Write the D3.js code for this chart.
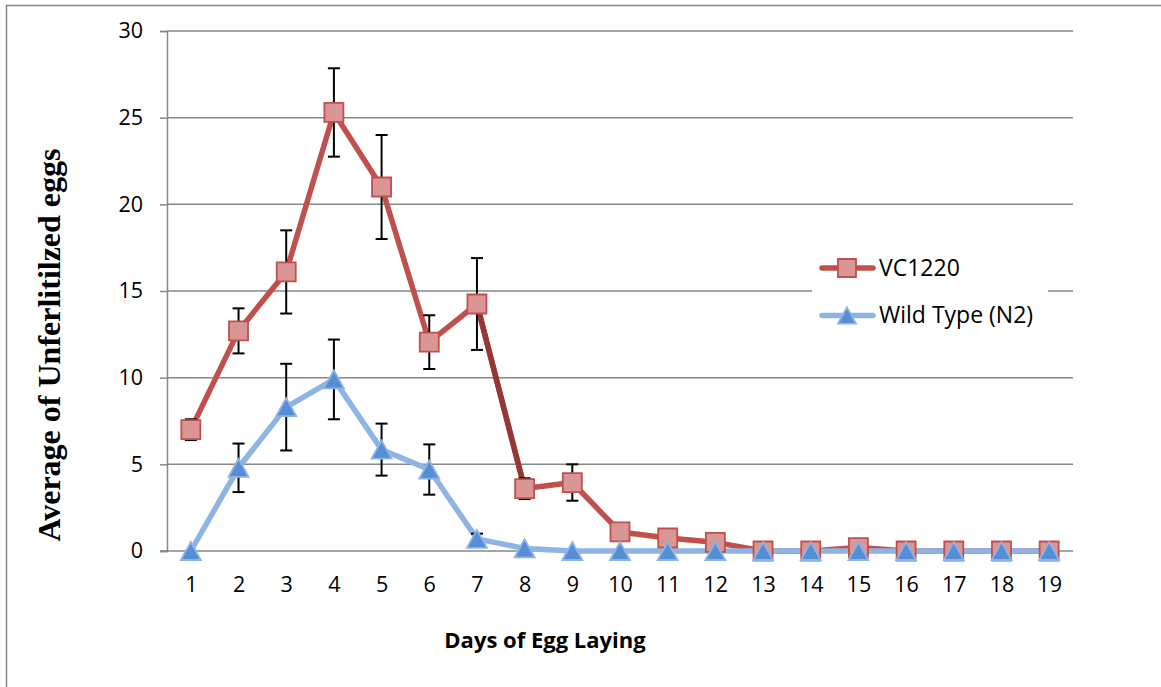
<!DOCTYPE html>
<html>
<head>
<meta charset="utf-8">
<script src="https://cdn.jsdelivr.net/npm/d3@7"></script>
<style>
  html, body { margin: 0; padding: 0; background: #fff; }
  svg { display: block; }
</style>
</head>
<body>
<svg id="chart" width="1161" height="687"></svg>
<script>
// Days of egg laying (category axis)
const days = [1, 2, 3, 4, 5, 6, 7, 8, 9, 10, 11, 12, 13, 14, 15, 16, 17, 18, 19];

// Mean unfertilized eggs per day, with standard error
const vc1220Values = [7.0, 12.7, 16.1, 25.3, 21.0, 12.05, 14.25, 3.6, 3.95, 1.1, 0.75, 0.5, 0, 0, 0.2, 0, 0, 0, 0];
const vc1220Errors = [0.6, 1.3, 2.4, 2.55, 3.0, 1.55, 2.65, 0.6, 1.05, 0, 0, 0, 0, 0, 0, 0, 0, 0, 0];
const wildTypeValues = [0, 4.8, 8.3, 9.9, 5.85, 4.7, 0.7, 0.15, 0, 0, 0, 0, 0, 0, 0, 0, 0, 0, 0];
const wildTypeErrors = [0, 1.4, 2.5, 2.3, 1.5, 1.45, 0.3, 0, 0, 0, 0, 0, 0, 0, 0, 0, 0, 0, 0];

const seriesNames = ["VC1220", "Wild Type (N2)"];
const yTicks = [0, 5, 10, 15, 20, 25, 30];

const svg = d3.select("#chart");
const plot = { left: 167, right: 1073, top: 31, bottom: 551 };

const x = d3.scalePoint().domain(days).range([plot.left, plot.right]).padding(0.5);
const y = d3.scaleLinear().domain([0, 30]).range([plot.bottom, plot.top]);

const gridColor = "#878787";
const red = "#C0504D", redDark = "#953735", redFill = "#D99694";
const blue = "#8DB4E2", blueFill = "#558ED5";
const tickFont = 21.5;

// outer chart frame
svg.append("rect")
  .attr("x", 6.5).attr("y", 5.5).attr("width", 1200).attr("height", 720)
  .attr("fill", "#fff").attr("stroke", gridColor).attr("stroke-width", 1.5);

// horizontal gridlines
svg.append("g").selectAll("line").data(yTicks.filter(t => t > 0)).join("line")
  .attr("x1", plot.left).attr("x2", plot.right)
  .attr("y1", d => y(d)).attr("y2", d => y(d))
  .attr("stroke", gridColor).attr("stroke-width", 1.5);

// y axis
const yAxis = svg.append("g")
  .attr("transform", `translate(${plot.left},0)`)
  .call(d3.axisLeft(y).tickValues(yTicks).tickSize(7).tickPadding(17));
yAxis.select(".domain").attr("stroke", gridColor).attr("stroke-width", 1.5);
yAxis.selectAll(".tick line").attr("stroke", gridColor).attr("stroke-width", 1.5);
yAxis.selectAll(".tick text")
  .attr("font-family", "'Open Sans', sans-serif").attr("font-size", tickFont).attr("fill", "#000");

// x axis
const xAxis = svg.append("g")
  .attr("transform", `translate(0,${plot.bottom})`)
  .call(d3.axisBottom(x).tickSize(0).tickPadding(26));
xAxis.select(".domain").attr("d", `M${plot.left - 7},0H${plot.right}`)
  .attr("stroke", gridColor).attr("stroke-width", 1.5);
xAxis.selectAll(".tick text")
  .attr("font-family", "'Open Sans', sans-serif").attr("font-size", tickFont).attr("fill", "#000");

// axis titles
svg.append("text")
  .attr("x", 545).attr("y", 648).attr("text-anchor", "middle")
  .attr("font-family", "'Open Sans', sans-serif").attr("font-weight", "bold").attr("font-size", 22)
  .text("Days of Egg Laying");

svg.append("text")
  .attr("transform", "translate(60,345) rotate(-90)").attr("text-anchor", "middle")
  .attr("font-family", "'Liberation Serif', 'Times New Roman', serif").attr("font-weight", "bold").attr("font-size", 32)
  .text("Average of Unferlitilzed eggs");

const line = d3.line().x((d, i) => x(days[i])).y(d => y(d));

const series = [
  { name: seriesNames[0], values: vc1220Values, errors: vc1220Errors, stroke: red, fill: redFill, marker: "square" },
  { name: seriesNames[1], values: wildTypeValues, errors: wildTypeErrors, stroke: blue, fill: blueFill, marker: "triangle" }
];

function markerPath(type, s) {
  if (type === "square") return `M${-s / 2},${-s / 2}h${s}v${s}h${-s}Z`;
  const h = s * 0.9;
  return `M0,${-h / 2}L${s / 2},${h / 2}L${-s / 2},${h / 2}Z`;
}

series.forEach(s => {
  const g = svg.append("g");
  g.append("path").datum(s.values).attr("d", line)
    .attr("fill", "none").attr("stroke", s.stroke).attr("stroke-width", 5.5)
    .attr("stroke-linejoin", "round").attr("stroke-linecap", "round");

  // day 7 to day 8 segment of VC1220 is drawn in a darker red
  if (s.marker === "square") {
    const i = days.indexOf(7);
    g.append("line")
      .attr("x1", x(days[i])).attr("y1", y(s.values[i]))
      .attr("x2", x(days[i + 1])).attr("y2", y(s.values[i + 1]))
      .attr("stroke", redDark).attr("stroke-width", 5.5).attr("stroke-linecap", "round");
  }

  // error bars
  const eb = g.append("g").selectAll("g")
    .data(s.values.map((v, i) => ({ day: days[i], v, e: s.errors[i] })).filter(d => d.e > 0))
    .join("g").attr("stroke", "#000").attr("stroke-width", 2);
  eb.append("line")
    .attr("x1", d => x(d.day)).attr("x2", d => x(d.day))
    .attr("y1", d => y(d.v + d.e)).attr("y2", d => y(d.v - d.e));
  eb.append("line")
    .attr("x1", d => x(d.day) - 6).attr("x2", d => x(d.day) + 6)
    .attr("y1", d => y(d.v + d.e)).attr("y2", d => y(d.v + d.e));
  eb.append("line")
    .attr("x1", d => x(d.day) - 6).attr("x2", d => x(d.day) + 6)
    .attr("y1", d => y(d.v - d.e)).attr("y2", d => y(d.v - d.e));
});

// markers are drawn on top of all lines and error bars
series.forEach(s => {
  svg.append("g").selectAll("path").data(s.values).join("path")
    .attr("transform", (d, i) => `translate(${x(days[i])},${y(d)})`)
    .attr("d", markerPath(s.marker, s.marker === "square" ? 19 : 20))
    .attr("fill", s.fill).attr("stroke", s.stroke).attr("stroke-width", 1.8);
});

// legend
const legend = svg.append("g");
legend.append("rect").attr("x", 812).attr("y", 245).attr("width", 236).attr("height", 92).attr("fill", "#fff");
series.forEach((s, k) => {
  const ly = 268 + k * 47.5;
  legend.append("line").attr("x1", 822).attr("x2", 873).attr("y1", ly).attr("y2", ly)
    .attr("stroke", s.stroke).attr("stroke-width", 5.5).attr("stroke-linecap", "round");
  legend.append("path").attr("transform", `translate(847,${ly})`)
    .attr("d", markerPath(s.marker, 18))
    .attr("fill", s.fill).attr("stroke", s.stroke).attr("stroke-width", 1.8);
  legend.append("text").attr("x", 879).attr("y", ly + 7.5)
    .attr("font-family", "'Open Sans', sans-serif").attr("font-size", 23).attr("fill", "#000")
    .text(s.name);
});
</script>
</body>
</html>
